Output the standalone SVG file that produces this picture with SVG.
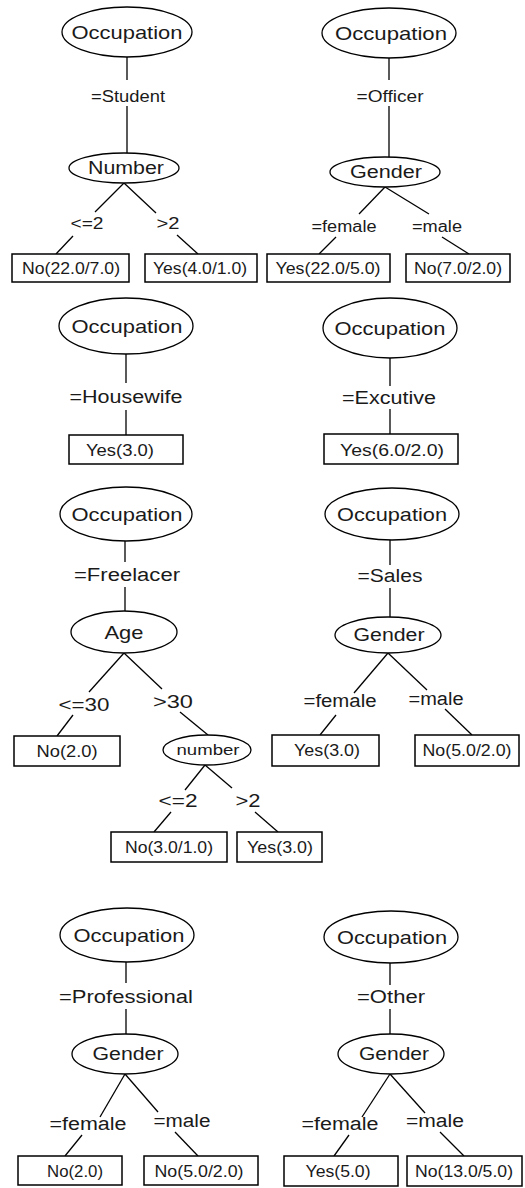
<svg xmlns="http://www.w3.org/2000/svg" width="525" height="1188" viewBox="0 0 525 1188">
<style>
.e{fill:#fff;stroke:#000;stroke-width:1.3}
.b{fill:#fff;stroke:#000;stroke-width:1.5}
.c line{stroke:#000;stroke-width:1.3}
text{font-family:"Liberation Sans",Arial,sans-serif;fill:#1a1a1a;text-anchor:middle}
.h{font-size:19px}
.l{font-size:16px}
.L{font-size:18px}
.v{font-size:16px}
.s{font-size:15px}
</style>
<rect width="525" height="1188" fill="#fff"/>
<g class="c" id="connectors">
<line x1="127" y1="57" x2="127" y2="80"/><line x1="127" y1="106" x2="127" y2="153"/>
<line x1="124" y1="183" x2="95" y2="212"/><line x1="73" y1="236" x2="56" y2="254"/>
<line x1="124" y1="183" x2="156" y2="213"/><line x1="177" y1="235" x2="198" y2="254"/>
<line x1="389" y1="58" x2="389" y2="80"/><line x1="389" y1="106" x2="389" y2="157"/>
<line x1="385" y1="187" x2="359" y2="214"/><line x1="336" y1="237" x2="319" y2="254"/>
<line x1="385" y1="187" x2="429" y2="214"/><line x1="442" y1="237" x2="469" y2="254"/>
<line x1="126" y1="354" x2="126" y2="383"/><line x1="126" y1="410" x2="126" y2="435"/>
<line x1="390" y1="358" x2="390" y2="386"/><line x1="390" y1="409" x2="390" y2="434"/>
<line x1="125" y1="541" x2="125" y2="562"/><line x1="125" y1="587" x2="125" y2="611"/>
<line x1="124" y1="653" x2="89" y2="692"/><line x1="73" y1="715" x2="57" y2="736"/>
<line x1="124" y1="653" x2="162" y2="689"/><line x1="180" y1="712" x2="208" y2="735"/>
<line x1="205" y1="765" x2="185" y2="790"/><line x1="171" y1="812" x2="154" y2="832"/>
<line x1="205" y1="765" x2="232" y2="788"/><line x1="255" y1="812" x2="278" y2="832"/>
<line x1="390" y1="540" x2="390" y2="565"/><line x1="390" y1="588" x2="390" y2="617"/>
<line x1="388" y1="653" x2="354" y2="693"/><line x1="336" y1="715" x2="320" y2="735"/>
<line x1="388" y1="653" x2="427" y2="690"/><line x1="445" y1="709" x2="472" y2="735"/>
<line x1="126" y1="962" x2="126" y2="983"/><line x1="126" y1="1009" x2="126" y2="1034"/>
<line x1="125" y1="1074" x2="100" y2="1117"/><line x1="82" y1="1135" x2="65" y2="1156"/>
<line x1="125" y1="1074" x2="158" y2="1112"/><line x1="175" y1="1132" x2="198" y2="1156"/>
<line x1="390" y1="963" x2="390" y2="985"/><line x1="390" y1="1009" x2="390" y2="1034"/>
<line x1="390" y1="1074" x2="362" y2="1117"/><line x1="349" y1="1135" x2="334" y2="1156"/>
<line x1="390" y1="1074" x2="425" y2="1113"/><line x1="440" y1="1132" x2="464" y2="1156"/>
</g>
<g class="c" id="labels">
<text class="l" x="128" y="102" textLength="74" lengthAdjust="spacingAndGlyphs">=Student</text>
<text class="l" x="87" y="229" textLength="33" lengthAdjust="spacingAndGlyphs">&lt;=2</text>
<text class="l" x="168" y="229" textLength="23" lengthAdjust="spacingAndGlyphs">&gt;2</text>
<text class="l" x="390" y="102" textLength="67" lengthAdjust="spacingAndGlyphs">=Officer</text>
<text class="l" x="344" y="232" textLength="65" lengthAdjust="spacingAndGlyphs">=female</text>
<text class="l" x="437" y="232" textLength="50" lengthAdjust="spacingAndGlyphs">=male</text>
<text class="L" x="126" y="403" textLength="113" lengthAdjust="spacingAndGlyphs">=Housewife</text>
<text class="L" x="389" y="404" textLength="94" lengthAdjust="spacingAndGlyphs">=Excutive</text>
<text class="L" x="127" y="581" textLength="106" lengthAdjust="spacingAndGlyphs">=Freelacer</text>
<text class="L" x="84" y="711" textLength="51" lengthAdjust="spacingAndGlyphs">&lt;=30</text>
<text class="L" x="173" y="708" textLength="40" lengthAdjust="spacingAndGlyphs">&gt;30</text>
<text class="L" x="178" y="807" textLength="39" lengthAdjust="spacingAndGlyphs">&lt;=2</text>
<text class="L" x="248" y="807" textLength="25" lengthAdjust="spacingAndGlyphs">&gt;2</text>
<text class="L" x="390" y="582" textLength="65" lengthAdjust="spacingAndGlyphs">=Sales</text>
<text class="L" x="340" y="707" textLength="73" lengthAdjust="spacingAndGlyphs">=female</text>
<text class="L" x="436" y="705" textLength="55" lengthAdjust="spacingAndGlyphs">=male</text>
<text class="L" x="126" y="1003" textLength="134" lengthAdjust="spacingAndGlyphs">=Professional</text>
<text class="L" x="88" y="1130" textLength="77" lengthAdjust="spacingAndGlyphs">=female</text>
<text class="L" x="182" y="1127" textLength="57" lengthAdjust="spacingAndGlyphs">=male</text>
<text class="L" x="391" y="1003" textLength="68" lengthAdjust="spacingAndGlyphs">=Other</text>
<text class="L" x="340" y="1130" textLength="77" lengthAdjust="spacingAndGlyphs">=female</text>
<text class="L" x="435" y="1127" textLength="58" lengthAdjust="spacingAndGlyphs">=male</text>
</g>
<g id="t1-occ"><ellipse class="e" cx="127" cy="32" rx="65" ry="25"/><text class="h" x="127" y="39" textLength="111" lengthAdjust="spacingAndGlyphs">Occupation</text></g>
<g id="t1-number"><ellipse class="e" cx="124" cy="168" rx="55" ry="15"/><text class="L" x="126" y="174" textLength="76" lengthAdjust="spacingAndGlyphs">Number</text></g>
<g id="t1-no"><rect class="b" x="12" y="254" width="117" height="28"/><text class="v" x="71" y="274" textLength="98" lengthAdjust="spacingAndGlyphs">No(22.0/7.0)</text></g>
<g id="t1-yes"><rect class="b" x="145" y="254" width="112" height="28"/><text class="v" x="200" y="274" textLength="94" lengthAdjust="spacingAndGlyphs">Yes(4.0/1.0)</text></g>
<g id="t2-occ"><ellipse class="e" cx="389" cy="33" rx="67" ry="25"/><text class="h" x="391" y="40" textLength="112" lengthAdjust="spacingAndGlyphs">Occupation</text></g>
<g id="t2-gender"><ellipse class="e" cx="385" cy="172" rx="55" ry="15"/><text class="L" x="386" y="178" textLength="72" lengthAdjust="spacingAndGlyphs">Gender</text></g>
<g id="t2-yes"><rect class="b" x="267" y="254" width="123" height="28"/><text class="v" x="328" y="274" textLength="105" lengthAdjust="spacingAndGlyphs">Yes(22.0/5.0)</text></g>
<g id="t2-no"><rect class="b" x="406" y="254" width="104" height="28"/><text class="v" x="458" y="274" textLength="88" lengthAdjust="spacingAndGlyphs">No(7.0/2.0)</text></g>
<g id="t3-occ"><ellipse class="e" cx="126" cy="326" rx="67" ry="28"/><text class="h" x="127" y="333" textLength="111" lengthAdjust="spacingAndGlyphs">Occupation</text></g>
<g id="t3-yes"><rect class="b" x="69" y="435" width="114" height="29"/><text class="v" x="120" y="456" textLength="68" lengthAdjust="spacingAndGlyphs">Yes(3.0)</text></g>
<g id="t4-occ"><ellipse class="e" cx="390" cy="328" rx="67" ry="30"/><text class="h" x="390" y="335" textLength="111" lengthAdjust="spacingAndGlyphs">Occupation</text></g>
<g id="t4-yes"><rect class="b" x="324" y="434" width="134" height="30"/><text class="v" x="392" y="456" textLength="104" lengthAdjust="spacingAndGlyphs">Yes(6.0/2.0)</text></g>
<g id="t5-occ"><ellipse class="e" cx="126" cy="514" rx="66" ry="27"/><text class="h" x="127" y="521" textLength="111" lengthAdjust="spacingAndGlyphs">Occupation</text></g>
<g id="t5-age"><ellipse class="e" cx="124" cy="632" rx="53" ry="21"/><text class="h" x="124" y="639" textLength="39" lengthAdjust="spacingAndGlyphs">Age</text></g>
<g id="t5-no"><rect class="b" x="14" y="736" width="106" height="30"/><text class="v" x="67" y="757" textLength="61" lengthAdjust="spacingAndGlyphs">No(2.0)</text></g>
<g id="t5-number"><ellipse class="e" cx="207" cy="750" rx="44" ry="15"/><text class="s" x="208" y="755" textLength="63" lengthAdjust="spacingAndGlyphs">number</text></g>
<g id="t5-no2"><rect class="b" x="111" y="832" width="116" height="30"/><text class="v" x="169" y="853" textLength="88" lengthAdjust="spacingAndGlyphs">No(3.0/1.0)</text></g>
<g id="t5-yes"><rect class="b" x="237" y="832" width="85" height="30"/><text class="v" x="280" y="853" textLength="66" lengthAdjust="spacingAndGlyphs">Yes(3.0)</text></g>
<g id="t6-occ"><ellipse class="e" cx="392" cy="514" rx="67" ry="26"/><text class="h" x="392" y="521" textLength="110" lengthAdjust="spacingAndGlyphs">Occupation</text></g>
<g id="t6-gender"><ellipse class="e" cx="388" cy="635" rx="53" ry="18"/><text class="L" x="389" y="641" textLength="71" lengthAdjust="spacingAndGlyphs">Gender</text></g>
<g id="t6-yes"><rect class="b" x="272" y="735" width="107" height="31"/><text class="v" x="327" y="756" textLength="66" lengthAdjust="spacingAndGlyphs">Yes(3.0)</text></g>
<g id="t6-no"><rect class="b" x="415" y="735" width="104" height="31"/><text class="v" x="467" y="756" textLength="89" lengthAdjust="spacingAndGlyphs">No(5.0/2.0)</text></g>
<g id="t7-occ"><ellipse class="e" cx="127" cy="935" rx="67" ry="27"/><text class="h" x="129" y="942" textLength="111" lengthAdjust="spacingAndGlyphs">Occupation</text></g>
<g id="t7-gender"><ellipse class="e" cx="125" cy="1054" rx="53" ry="20"/><text class="L" x="128" y="1060" textLength="71" lengthAdjust="spacingAndGlyphs">Gender</text></g>
<g id="t7-no"><rect class="b" x="18" y="1156" width="104" height="29"/><text class="v" x="75" y="1177" textLength="56" lengthAdjust="spacingAndGlyphs">No(2.0)</text></g>
<g id="t7-no2"><rect class="b" x="144" y="1156" width="114" height="29"/><text class="v" x="199" y="1177" textLength="89" lengthAdjust="spacingAndGlyphs">No(5.0/2.0)</text></g>
<g id="t8-occ"><ellipse class="e" cx="391" cy="937" rx="67" ry="26"/><text class="h" x="392" y="944" textLength="110" lengthAdjust="spacingAndGlyphs">Occupation</text></g>
<g id="t8-gender"><ellipse class="e" cx="391" cy="1054" rx="53" ry="20"/><text class="L" x="394" y="1060" textLength="70" lengthAdjust="spacingAndGlyphs">Gender</text></g>
<g id="t8-yes"><rect class="b" x="284" y="1156" width="114" height="30"/><text class="v" x="338" y="1177" textLength="65" lengthAdjust="spacingAndGlyphs">Yes(5.0)</text></g>
<g id="t8-no"><rect class="b" x="407" y="1156" width="115" height="30"/><text class="v" x="464" y="1177" textLength="98" lengthAdjust="spacingAndGlyphs">No(13.0/5.0)</text></g>
</svg>
